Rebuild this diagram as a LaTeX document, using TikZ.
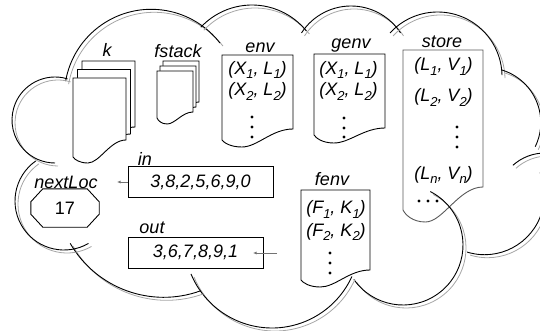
\documentclass[tikz,border=0pt]{standalone}
\usepackage{fontspec}
\setmainfont{Liberation Sans}
\usetikzlibrary{arrows.meta}
\newcommand{\lowsub}[1]{\raisebox{-4.5pt}{\fontsize{13}{13}\selectfont #1}}

\begin{document}
\begin{tikzpicture}[x=1pt,y=-1pt,
  every node/.style={font=\fontsize{18}{22}\selectfont\itshape,inner sep=0pt},
  doc/.style={draw,fill=white,line width=0.9pt},
  valbox/.style={draw,line width=0.9pt,minimum height=31},
  cloudline/.style={line width=0.9pt},
  cloudshadow/.style={gray!70,line width=0.8pt},
  arr/.style={-{Latex[length=3.5pt,width=3pt]},black!55,line width=0.7pt}]
 \useasboundingbox (0,0) rectangle (540,331);
 % documents (k, fstack, env, genv, store, fenv)
 \foreach \xl/\yt/\xr/\yl/\yd/\yr/\col in {82/61/135/140/146/127/black, 77.5/69.5/130.5/148.5/154.5/134/black,
     73/78/126/157/163/140/black, 163/61/199/108/114/102/black, 160/66/196/113/119/107/black,
     157/71/193/118/124/112/black, 222/55/293/140/147/129/black, 314/54/385/135/143/128/black,
     403/50/483/210/222/187/black!65, 301/190/370/280/287/270/black}
   \draw[doc,draw=\col] (\xl,\yt) -- (\xr,\yt) -- (\xr,\yr)
     .. controls ({\xl+0.7*(\xr-\xl)},\yr) and ({\xl+0.5*(\xr-\xl)},\yd) .. ({\xl+0.28*(\xr-\xl)},\yd)
     .. controls ({\xl+0.12*(\xr-\xl)},\yd) and ({\xl+0.03*(\xr-\xl)},{\yl+0.4*(\yd-\yl)}) .. (\xl,\yl) -- cycle;
 % labels
 \node[anchor=base] (klab) at (107,57) {k};
 \node[anchor=base] (fstacklab) at (178,58) {fstack};
 \node[anchor=base] (envlab) at (260,53) {env};
 \node[anchor=base] (genvlab) at (351,49) {genv};
 \node[anchor=base] (storelab) at (442,48) {store};
 \node[anchor=base] (fenvlab) at (332,185) {fenv};
 \node[anchor=base] (inlab) at (145,166) {in};
 \node[anchor=base] (outlab) at (152,233) {out};
 \node[anchor=base] (nextlab) at (66,188) {nextLoc};
 % pairs
 \node[anchor=base] (env1) at (257.5,74.5) {(X\lowsub{1}, L\lowsub{1})};
 \node[anchor=base] (env2) at (257.5,96) {(X\lowsub{2}, L\lowsub{2})};
 \node[anchor=base] (genv1) at (348.5,74.5) {(X\lowsub{1}, L\lowsub{1})};
 \node[anchor=base] (genv2) at (348.5,96) {(X\lowsub{2}, L\lowsub{2})};
 \node[anchor=base] (store1) at (443.5,71) {(L\lowsub{1}, V\lowsub{1})};
 \node[anchor=base] (store2) at (443.5,102) {(L\lowsub{2}, V\lowsub{2})};
 \node[anchor=base] (storen) at (443.5,179) {(L\lowsub{n}, V\lowsub{n})};
 \node[anchor=base] (fenv1) at (336,213.5) {(F\lowsub{1}, K\lowsub{1})};
 \node[anchor=base] (fenv2) at (336,236) {(F\lowsub{2}, K\lowsub{2})};
 % dots
 \foreach \x/\y in {252/117, 252/127, 252/137, 344/118, 344/128, 344/137, 457/127, 457/137, 457/147,
     330/253, 330/263, 330/273, 419/201, 428/201, 437/201}
   \fill (\x,\y) circle (1.6);
 % in, out, nextLoc
 \node[valbox,minimum width=145] (inbox) at (200.5,182) {3,8,2,5,6,9,0};
 \node[valbox,minimum width=135] (outbox) at (195.5,252.5) {3,6,7,8,9,1};
 \node[minimum width=68,minimum height=38] (nextval) at (65,208) {\upshape 17};
 \draw[line width=0.9pt] ([xshift=12]nextval.north west) -- ([xshift=-12]nextval.north east)
   -- ([yshift=-13]nextval.north east) -- ([yshift=13]nextval.south east)
   -- ([xshift=-12]nextval.south east) -- ([xshift=12]nextval.south west)
   -- ([yshift=13]nextval.south west) -- ([yshift=-13]nextval.north west) -- cycle;
 \coordinate (inend) at (117,182);
 \coordinate (outfrom) at (277,253);
 \coordinate (outto) at (253,253);
 \draw[arr] (inbox.west) -- (inend);
 \draw[arr] (outfrom) -- (outto);
 % cloud
 \begin{scope}
  \clip (0,0) rectangle (540,331);
  \foreach \cx/\cy/\r/\a/\b in {151.2/96.2/86.9/-170/-37.7, 252/75/70/-137/-39, 351/65/59/-147/-33,
      437.6/76.4/64.4/-137.6/-1.2, 485.8/122.6/55/-73/26, 545/201/48/-132/-90, 484.6/194.9/59.8/107/-22,
      403/245/60/-215/-423, 272/240.25/87.75/-202.6/-335.6, 163.7/189.3/108/-210/-290,
      64/201/49/-125/-300, 55/120/43/-73/-270}
  {
   \draw[cloudshadow] ([shift={(3,3)}]\cx,\cy) ++(\a:\r) arc (\a:\b:\r);
   \draw[cloudline] (\cx,\cy) ++(\a:\r) arc (\a:\b:\r);
  }
 \end{scope}
\end{tikzpicture}
\end{document}
